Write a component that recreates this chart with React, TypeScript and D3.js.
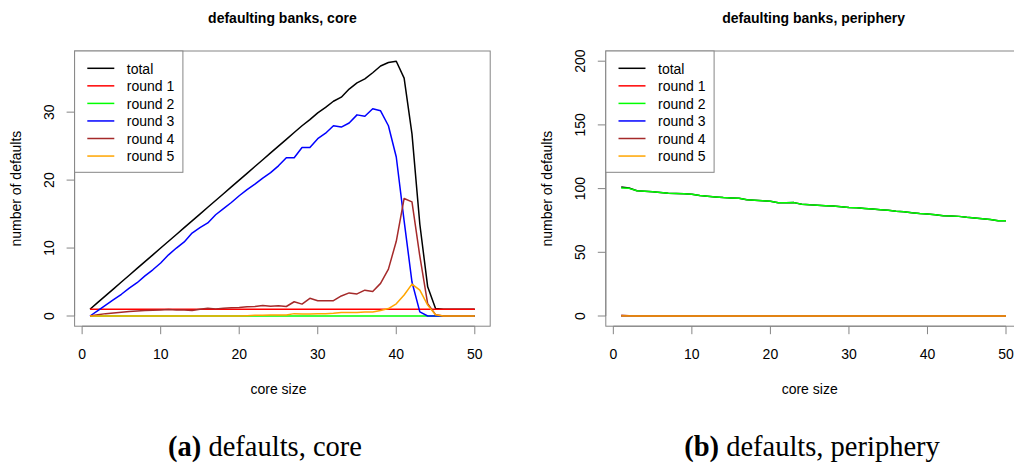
import React from "react";
import * as d3 from "d3";

// core size (x axis) shared by both panels
const coreSize = [
  1, 2, 3, 4, 5, 6, 7, 8, 9, 10, 11, 12, 13, 14, 15, 16, 17, 18, 19, 20, 21, 22, 23, 24, 25,
  26, 27, 28, 29, 30, 31, 32, 33, 34, 35, 36, 37, 38, 39, 40, 41, 42, 43, 44, 45, 46, 47, 48, 49, 50,
];

// defaulting core banks per round
const coreTotal = [
  1.0, 2.0, 3.0, 4.0, 5.0, 6.0, 7.0, 8.0, 9.0, 10.0, 11.0, 12.0, 13.0, 14.0, 15.0, 16.0, 17.0, 18.0, 19.0, 20.0,
  21.0, 22.0, 23.0, 24.0, 25.0, 26.0, 27.0, 28.0, 28.9, 29.9, 30.7, 31.6, 32.2, 33.4, 34.3, 34.9, 35.8, 36.8, 37.3, 37.5,
  35.0, 26.8, 13.5, 4.3, 1.1, 1.0, 1.0, 1.0, 1.0, 1.0,
];
const coreRound1 = [
  1, 1, 1, 1, 1, 1, 1, 1, 1, 1, 1, 1, 1, 1, 1, 1, 1, 1, 1, 1, 1, 1, 1, 1, 1,
  1, 1, 1, 1, 1, 1, 1, 1, 1, 1, 1, 1, 1, 1, 1, 1, 1, 1, 1, 1, 1, 1, 1, 1, 1,
];
const coreRound2 = [
  0, 0, 0, 0, 0, 0, 0, 0, 0, 0, 0, 0, 0, 0, 0, 0, 0, 0, 0, 0, 0, 0, 0, 0, 0,
  0, 0, 0, 0, 0, 0, 0, 0, 0, 0, 0, 0, 0, 0, 0, 0, 0, 0, 0, 0, 0, 0, 0, 0, 0,
];
const coreRound3 = [
  0, 0.8, 1.6, 2.4, 3.2, 4.1, 4.9, 5.9, 6.8, 7.8, 9.0, 10.0, 10.9, 12.2, 13.0, 13.7, 14.9, 15.8, 16.7, 17.7,
  18.6, 19.4, 20.3, 21.1, 22.1, 23.3, 23.3, 24.8, 24.8, 26.1, 26.9, 28.0, 27.8, 28.4, 29.6, 29.4, 30.5, 30.2, 28.0, 23.4,
  14.0, 5.0, 0.6, 0, 0, 0, 0, 0, 0, 0,
];
const coreRound4 = [
  0, 0.2, 0.35, 0.45, 0.55, 0.65, 0.75, 0.8, 0.85, 0.9, 0.95, 0.9, 0.9, 0.8, 1.0, 1.15, 1.05, 1.15, 1.2, 1.25,
  1.35, 1.4, 1.55, 1.45, 1.5, 1.4, 2.1, 1.75, 2.6, 2.25, 2.25, 2.25, 2.95, 3.4, 3.25, 3.8, 3.6, 4.8, 6.9, 11.0,
  17.3, 16.8, 8.8, 1.8, 0.2, 0, 0, 0, 0, 0,
];
const coreRound5 = [
  0, 0, 0, 0, 0, 0, 0, 0, 0, 0, 0, 0, 0, 0, 0, 0, 0, 0, 0, 0,
  0.05, 0.1, 0.1, 0.15, 0.15, 0.15, 0.35, 0.3, 0.3, 0.35, 0.35, 0.4, 0.5, 0.5, 0.5, 0.6, 0.6, 0.8, 1.1, 1.8,
  3.1, 4.7, 3.8, 1.6, 0.2, 0, 0, 0, 0, 0,
];

// defaulting periphery banks per round
const periTotal = [
  101.2, 100.5, 98.3, 98.0, 97.6, 97.0, 96.4, 96.2, 96.0, 95.6, 94.5, 94.0, 93.5, 93.0, 92.7, 92.5, 91.2, 90.8, 90.5, 90.0,
  88.9, 88.8, 89.0, 87.8, 87.3, 87.0, 86.6, 86.3, 85.7, 85.2, 84.9, 84.4, 83.9, 83.4, 83.0, 82.2, 81.8, 81.0, 80.4, 80.0,
  79.4, 78.6, 78.4, 78.2, 77.5, 77.0, 76.4, 75.8, 74.8, 74.8,
];
const periRound1 = [
  0, 0, 0, 0, 0, 0, 0, 0, 0, 0, 0, 0, 0, 0, 0, 0, 0, 0, 0, 0, 0, 0, 0, 0, 0,
  0, 0, 0, 0, 0, 0, 0, 0, 0, 0, 0, 0, 0, 0, 0, 0, 0, 0, 0, 0, 0, 0, 0, 0, 0,
];
const periRound2 = [
  100.5, 100.2, 98.3, 98.0, 97.6, 97.0, 96.4, 96.2, 96.0, 95.6, 94.5, 94.0, 93.5, 93.0, 92.7, 92.5, 91.2, 90.8, 90.5, 90.0,
  88.9, 88.8, 89.0, 87.8, 87.3, 87.0, 86.6, 86.3, 85.7, 85.2, 84.9, 84.4, 83.9, 83.4, 83.0, 82.2, 81.8, 81.0, 80.4, 80.0,
  79.4, 78.6, 78.4, 78.2, 77.5, 77.0, 76.4, 75.8, 74.8, 74.8,
];
const periRound3 = [
  0, 0, 0, 0, 0, 0, 0, 0, 0, 0, 0, 0, 0, 0, 0, 0, 0, 0, 0, 0, 0, 0, 0, 0, 0,
  0, 0, 0, 0, 0, 0, 0, 0, 0, 0, 0, 0, 0, 0, 0, 0, 0, 0, 0, 0, 0, 0, 0, 0, 0,
];
const periRound4 = [
  0.6, 0.3, 0, 0, 0, 0, 0, 0, 0, 0, 0, 0, 0, 0, 0, 0, 0, 0, 0, 0, 0, 0, 0, 0, 0,
  0, 0, 0, 0, 0, 0, 0, 0, 0, 0, 0, 0, 0, 0, 0, 0, 0, 0, 0, 0, 0, 0, 0, 0, 0,
];
const periRound5 = [
  0, 0, 0, 0, 0, 0, 0, 0, 0, 0, 0, 0, 0, 0, 0, 0, 0, 0, 0, 0, 0, 0, 0, 0, 0,
  0, 0, 0, 0, 0, 0, 0, 0, 0, 0, 0, 0, 0, 0, 0, 0, 0, 0, 0, 0, 0, 0, 0, 0, 0,
];

const seriesNames = ["total", "round 1", "round 2", "round 3", "round 4", "round 5"];
const seriesColors = ["#000000", "#ff0000", "#00ff00", "#0000ff", "#a52a2a", "#ffa500"];
const xTicks = [0, 10, 20, 30, 40, 50];
const coreYTicks = [0, 10, 20, 30];
const periYTicks = [0, 50, 100, 150, 200];

const FONT = "'Liberation Sans', Arial, Helvetica, sans-serif";
const AXIS = "#858585";

type PanelProps = {
  left: number;
  title: string;
  series: number[][];
  yDomain: [number, number];
  yTicks: number[];
};

function Panel({ left, title, series, yDomain, yTicks }: PanelProps) {
  const top = 51;
  const bottom = 326.2;
  const x = d3.scaleLinear().domain([-0.96, 51.96]).range([left, left + 415.6]);
  const y = d3.scaleLinear().domain(yDomain).range([bottom, top]);
  const line = d3
    .line<number>()
    .x((_, i) => x(coreSize[i]))
    .y((d) => y(d));
  const right = x(51.96);
  const cx = (left + right) / 2;

  return (
    <g fontFamily={FONT}>
      <text x={cx} y={22.5} textAnchor="middle" fontWeight="bold" fontSize={14}>
        {title}
      </text>

      {series.map((vals, k) => (
        <path
          key={k}
          d={line(vals) || ""}
          fill="none"
          stroke={seriesColors[k]}
          strokeWidth={1.5}
          strokeLinejoin="round"
        />
      ))}

      <rect x={left} y={top} width={right - left} height={bottom - top} fill="none" stroke={AXIS} strokeWidth={1} />

      {/* x axis */}
      <line x1={x(xTicks[0])} x2={x(xTicks[xTicks.length - 1])} y1={bottom} y2={bottom} stroke={AXIS} />
      {xTicks.map((t) => (
        <g key={t}>
          <line x1={x(t)} x2={x(t)} y1={bottom} y2={bottom + 8} stroke={AXIS} />
          <text x={x(t)} y={359} textAnchor="middle" fontSize={14}>
            {t}
          </text>
        </g>
      ))}
      <text x={x(25)} y={394} textAnchor="middle" fontSize={14}>
        core size
      </text>

      {/* y axis */}
      <line x1={left} x2={left} y1={y(yTicks[0])} y2={y(yTicks[yTicks.length - 1])} stroke={AXIS} />
      {yTicks.map((t) => (
        <g key={t}>
          <line x1={left - 8} x2={left} y1={y(t)} y2={y(t)} stroke={AXIS} />
          <text
            transform={`translate(${left - 21},${y(t)}) rotate(-90)`}
            textAnchor="middle"
            fontSize={14}
          >
            {t}
          </text>
        </g>
      ))}
      <text
        transform={`translate(${left - 54},${(top + bottom) / 2}) rotate(-90)`}
        textAnchor="middle"
        fontSize={14}
      >
        number of defaults
      </text>

      {/* legend */}
      <rect x={left} y={top} width={108.3} height={121.3} fill="#ffffff" stroke={AXIS} />
      {seriesNames.map((name, k) => {
        const ly = 68.3 + k * 17.55;
        return (
          <g key={name}>
            <line x1={left + 12.7} x2={left + 39.7} y1={ly} y2={ly} stroke={seriesColors[k]} strokeWidth={1.5} />
            <text x={left + 52.2} y={ly + 5.3} fontSize={14}>
              {name}
            </text>
          </g>
        );
      })}
    </g>
  );
}

export default function App() {
  const coreSeries = [coreTotal, coreRound1, coreRound2, coreRound3, coreRound4, coreRound5];
  const periSeries = [periTotal, periRound1, periRound2, periRound3, periRound4, periRound5];
  return (
    <div style={{ position: "absolute", left: 0, top: 0 }}>
      <svg width={1014} height={468} viewBox="0 0 1014 468" style={{ display: "block", background: "#fff" }}>
        <Panel left={74.6} title="defaulting banks, core" series={coreSeries} yDomain={[-1.5, 39]} yTicks={coreYTicks} />
        <Panel
          left={605.8}
          title="defaulting banks, periphery"
          series={periSeries}
          yDomain={[-8, 208]}
          yTicks={periYTicks}
        />
        <g fontFamily="'Liberation Serif', 'Times New Roman', serif" fontSize={28.5}>
          <text x={265} y={456} textAnchor="middle">
            <tspan fontWeight="bold">(a)</tspan> defaults, core
          </text>
          <text x={812} y={456} textAnchor="middle">
            <tspan fontWeight="bold">(b)</tspan> defaults, periphery
          </text>
        </g>
      </svg>
    </div>
  );
}
